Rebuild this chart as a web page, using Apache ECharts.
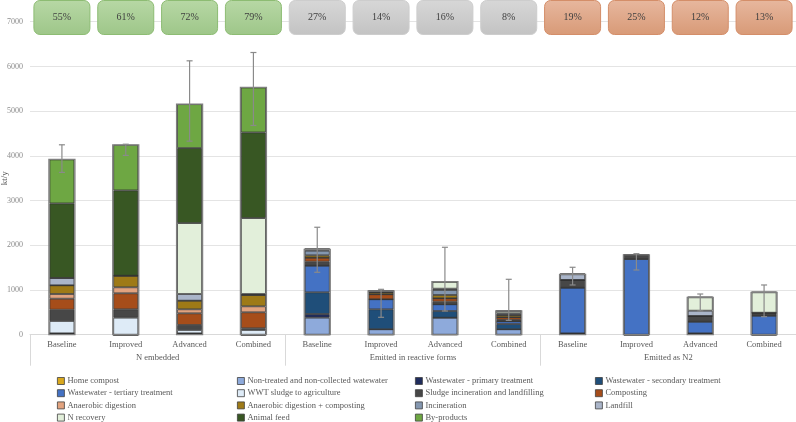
<!DOCTYPE html>
<html>
<head>
<meta charset="utf-8">
<script src="https://cdn.jsdelivr.net/npm/echarts@6/dist/echarts.min.js"></script>
<style>
  html, body { margin: 0; padding: 0; background: #fff; }
  #chart { width: 796px; height: 422px; }
</style>
</head>
<body>
<div id="chart"></div>
<script>
// x axis: scenario per category, grouped under the flow type
const scenarios = ['Baseline', 'Improved', 'Advanced', 'Combined',
  'Baseline', 'Improved', 'Advanced', 'Combined',
  'Baseline', 'Improved', 'Advanced', 'Combined'];
const groups = ['N embedded', 'Emitted in reactive forms', 'Emitted as N2'];
const shares = [55, 61, 72, 79, 27, 14, 16, 8, 19, 25, 12, 13];

// stacked contributions, kt/y (bottom to top)
const homeCompost   = [30, 0, 30, 0, 0, 0, 0, 0, 30, 0, 30, 0];
const nonTreated    = [0, 0, 0, 0, 380, 121, 380, 121, 0, 0, 0, 0];
const wwPrimary     = [0, 0, 0, 0, 83, 0, 0, 0, 0, 0, 0, 0];
const wwSecondary   = [0, 0, 0, 0, 485, 447, 150, 118, 0, 0, 0, 0];
const wwTertiary    = [0, 0, 0, 0, 596, 224, 150, 61, 1021, 1693, 261, 425];
const wwtSludge     = [276, 380, 75, 105, 0, 0, 0, 0, 0, 0, 0, 0];
const sludgeIncin   = [253, 188, 112, 38, 89, 0, 58, 29, 173, 90, 127, 67];
const composting    = [246, 358, 261, 358, 90, 112, 76, 60, 0, 0, 0, 0];
const anaerobic     = [105, 134, 90, 134, 0, 0, 0, 0, 0, 0, 0, 0];
const anaerobicComp = [195, 260, 193, 253, 53, 44, 74, 52, 0, 0, 0, 0];
const incineration  = [0, 0, 0, 0, 103, 0, 112, 0, 0, 0, 0, 0];
const landfill      = [163, 0, 149, 22, 31, 29, 29, 38, 127, 0, 119, 0];
const nRecovery     = [0, 0, 1586, 1698, 0, 0, 157, 51, 0, 0, 299, 456];
const animalFeed    = [1668, 1907, 1677, 1915, 0, 0, 0, 0, 0, 0, 0, 0];
const byProducts    = [984, 1020, 983, 1006, 0, 0, 0, 0, 0, 0, 0, 0];

// uncertainty range (absolute low / high)
const errLow  = [3629, 4010, 4329, 4680, 1396, 389, 530, 320, 1112, 1447, 530, 403];
const errHigh = [4247, 4260, 6125, 6311, 2403, 1015, 1955, 1239, 1508, 1812, 910, 1112];

const stack = [
  ['Home compost', homeCompost, '#d9a81e'],
  ['Non-treated and non-collected watewater', nonTreated, '#8eaadb'],
  ['Wastewater - primary treatment', wwPrimary, '#1f2c5c'],
  ['Wastewater - secondary treatment', wwSecondary, '#1f4e79'],
  ['Wastewater - tertiary treatment', wwTertiary, '#4472c4'],
  ['WWT sludge to agriculture', wwtSludge, '#deebf7'],
  ['Sludge incineration and landfilling', sludgeIncin, '#474747'],
  ['Composting', composting, '#a64d1a'],
  ['Anaerobic digestion', anaerobic, '#e2a37f'],
  ['Anaerobic digestion + composting', anaerobicComp, '#9e7a17'],
  ['Incineration', incineration, '#8497b0'],
  ['Landfill', landfill, '#aab5c9'],
  ['N recovery', nRecovery, '#e2efda'],
  ['Animal feed', animalFeed, '#385723'],
  ['By-products', byProducts, '#6ea743']
];

const totals = scenarios.map((_, i) => stack.reduce((s, d) => s + d[1][i], 0));

const boxStyles = [
  { top: '#b7d8a5', bottom: '#9ec689', stroke: '#8dbc73' },
  { top: '#d7d7d7', bottom: '#c3c3c3', stroke: '#cdcdcd' },
  { top: '#e7b79e', bottom: '#d89a77', stroke: '#d48e69' }
];

const font = 'Liberation Serif';
const chart = echarts.init(document.getElementById('chart'));

const barSeries = stack.map(([name, data, color]) => ({
  name: name,
  type: 'bar',
  stack: 'total',
  barWidth: 25,
  data: data,
  itemStyle: { color: color, borderColor: '#333', borderWidth: 0.8 },
  emphasis: { disabled: true }
}));

// legend as 4 vertical columns so the items line up in a grid
const legendCols = [57, 237, 415, 595].map((left, c) => ({
  data: stack.filter((_, i) => i % 4 === c).map(d => d[0]),
  orient: 'vertical',
  left: left,
  top: 375,
  height: 60,
  padding: 0,
  itemGap: 0.2,
  itemWidth: 7,
  itemHeight: 7,
  icon: 'rect',
  selectedMode: false,
  itemStyle: { borderColor: '#404040', borderWidth: 0.8 },
  textStyle: { fontFamily: font, fontSize: 8.5, color: '#595959', lineHeight: 12, padding: [0, 0, 0, -2] }
}));

chart.setOption({
  animation: false,
  grid: { left: 30, right: 0, top: 21.7, bottom: 87.3, containLabel: false, outerBoundsMode: 'none' },
  legend: legendCols,
  xAxis: [{
    type: 'category',
    data: scenarios,
    axisLine: { lineStyle: { color: '#d9d9d9' } },
    axisTick: { show: false },
    axisLabel: { interval: 0, margin: 6, fontFamily: font, fontSize: 8.5, color: '#595959' }
  }, {
    type: 'category',
    data: groups,
    position: 'bottom',
    axisLine: { show: false },
    axisTick: { show: true, length: 31, lineStyle: { color: '#d9d9d9' } },
    axisLabel: { interval: 0, margin: 19, fontFamily: font, fontSize: 8.5, color: '#595959' }
  }],
  yAxis: {
    type: 'value',
    min: 0,
    max: 7000,
    interval: 1000,
    name: 'kt/y',
    nameLocation: 'middle',
    nameGap: 21,
    nameMoveOverlap: false,
    nameTextStyle: { fontFamily: font, fontSize: 9, color: '#595959' },
    axisLine: { show: false },
    axisTick: { show: false },
    axisLabel: { margin: 7, fontFamily: font, fontSize: 8, color: '#8c8c8c', formatter: v => String(v) },
    splitLine: { lineStyle: { color: '#e4e4e4' } }
  },
  series: barSeries.concat([{
    // outer outline of each stacked bar
    type: 'custom',
    silent: true,
    z: 3,
    data: totals.map((t, i) => [i, t]),
    encode: { x: 0, y: 1 },
    renderItem: (params, api) => {
      const top = api.coord([api.value(0), api.value(1)]);
      const base = api.coord([api.value(0), 0]);
      return {
        type: 'rect',
        shape: { x: top[0] - 13, y: top[1], width: 26, height: base[1] - top[1] },
        style: { fill: 'none', stroke: '#7f7f7f', lineWidth: 1.3 }
      };
    }
  }, {
    type: 'custom',
    silent: true,
    z: 4,
    data: scenarios.map((_, i) => [i, errLow[i], errHigh[i]]),
    encode: { x: 0, y: [1, 2] },
    renderItem: (params, api) => {
      const x = api.coord([api.value(0), 0])[0];
      const lo = api.coord([api.value(0), api.value(1)])[1];
      const hi = api.coord([api.value(0), api.value(2)])[1];
      const st = { stroke: '#8a8a8a', lineWidth: 1.2 };
      return {
        type: 'group',
        children: [
          { type: 'line', shape: { x1: x, y1: hi, x2: x, y2: lo }, style: st },
          { type: 'line', shape: { x1: x - 3, y1: hi, x2: x + 3, y2: hi }, style: st },
          { type: 'line', shape: { x1: x - 3, y1: lo, x2: x + 3, y2: lo }, style: st }
        ]
      };
    }
  }, {
    // share boxes along the top
    type: 'custom',
    silent: true,
    z: 5,
    data: shares.map((v, i) => [i, 0]),
    encode: { x: 0, y: 1 },
    renderItem: (params, api) => {
      const i = params.dataIndex;
      const x = api.coord([api.value(0), 0])[0];
      const bs = boxStyles[Math.floor(i / 4)];
      return {
        type: 'group',
        children: [{
          type: 'rect',
          shape: { x: x - 28, y: 0.5, width: 56, height: 34, r: 6 },
          style: {
            fill: new echarts.graphic.LinearGradient(0, 0, 0, 1, [
              { offset: 0, color: bs.top }, { offset: 1, color: bs.bottom }
            ]),
            stroke: bs.stroke,
            lineWidth: 1
          }
        }, {
          type: 'text',
          x: x,
          y: 17.5,
          style: {
            text: shares[i] + '%',
            fontFamily: font,
            fontSize: 10,
            fill: '#404040',
            align: 'center',
            verticalAlign: 'middle'
          }
        }]
      };
    }
  }])
});
</script>
</body>
</html>
